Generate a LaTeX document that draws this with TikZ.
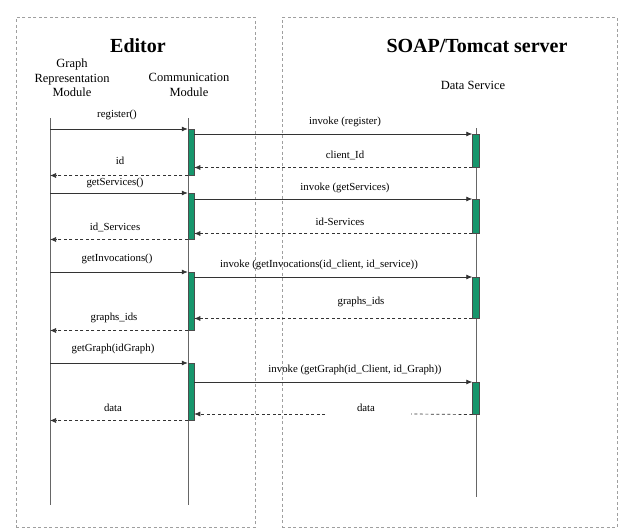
\documentclass[tikz,border=0pt]{standalone}
\usepackage{fontspec}
\setmainfont{Liberation Serif}
\usetikzlibrary{arrows.meta,calc}
\definecolor{actgreen}{RGB}{22,150,108}
\begin{document}
\begin{tikzpicture}[x=1pt,y=-1pt,
  frame/.style={draw=gray!75, line width=0.8pt, dash pattern=on 3pt off 2.5pt},
  life/.style={draw=gray!80!black, line width=0.8pt},
  cbar/.style={draw=gray!60!black, fill=actgreen, line width=0.5pt, minimum width=6pt, inner sep=0pt, anchor=north},
  dbar/.style={draw=gray!60!black, fill=actgreen, line width=0.5pt, minimum width=7pt, inner sep=0pt, anchor=north},
  msg/.style={draw=black!80, line width=0.7pt, -{Latex[length=6pt,width=5pt]}},
  ret/.style={draw=black!80, line width=0.7pt, dash pattern=on 3pt off 2.5pt, -{Latex[length=6pt,width=5pt]}},
  retline/.style={draw=black!80, line width=0.7pt, dash pattern=on 3pt off 2.5pt},
  lbl/.style={font=\fontsize{10.8}{12}\selectfont, inner sep=1pt},
  head/.style={font=\fontsize{12.5}{14.5}\selectfont, align=center, inner sep=0pt},
  title/.style={font=\fontsize{20}{22}\selectfont\bfseries, inner sep=0pt}
]
\useasboundingbox (0,0) rectangle (620,530);
% frames
\node[frame, minimum width=239pt, minimum height=510pt, anchor=north west, inner sep=0pt] (editor) at (16,17) {};
\node[frame, minimum width=335pt, minimum height=510pt, anchor=north west, inner sep=0pt] (server) at (282,17) {};
\node[title] (tEd) at (138,46) {Editor};
\node[title] (tSrv) at (477,46) {SOAP/Tomcat server};
% heads
\node[head] (hG) at (72,78) {Graph\\Representation\\Module};
\node[head] (hC) at (189,85) {Communication\\Module};
\node[head] (hD) at (473,85) {Data Service};
% lifelines
\coordinate (gTop) at (50,118); \coordinate (gBot) at (50,505);
\coordinate (cTop) at (188,118); \coordinate (cBot) at (188,505);
\coordinate (dTop) at (476,128); \coordinate (dBot) at (476,497);
\draw[life] (gTop) -- (gBot);
\draw[life] (cTop) -- (cBot);
\draw[life] (dTop) -- (dBot);
% activation bars
\node[cbar, minimum height=46pt] (a1) at (191,129) {};
\node[cbar, minimum height=46pt] (a2) at (191,193) {};
\node[cbar, minimum height=58pt] (a3) at (191,272) {};
\node[cbar, minimum height=57pt] (a4) at (191,363) {};
\node[dbar, minimum height=33pt] (d1) at (476,134) {};
\node[dbar, minimum height=34pt] (d2) at (476,199) {};
\node[dbar, minimum height=41pt] (d3) at (476,277) {};
\node[dbar, minimum height=32pt] (d4) at (476,382) {};
% messages 1
\draw[msg] (a1.north west -| gTop) -- (a1.north west);
\node[lbl] (l1) at (117,115) {register()};
\draw[msg] (d1.north west -| a1.east) -- (d1.north west);
\node[lbl] (l2) at (345,122) {invoke (register)};
\draw[ret] (d1.south west) -- (d1.south west -| a1.east);
\node[lbl] (l3) at (345,155) {client\_Id};
\draw[ret] (a1.south west) -- (a1.south west -| gTop);
\node[lbl] (l4) at (120,161) {id};
% messages 2
\draw[msg] (a2.north west -| gTop) -- (a2.north west);
\node[lbl] (l5) at (115,183) {getServices()};
\draw[msg] (d2.north west -| a2.east) -- (d2.north west);
\node[lbl] (l6) at (345,188) {invoke (getServices)};
\draw[ret] (d2.south west) -- (d2.south west -| a2.east);
\node[lbl] (l7) at (340,222) {id-Services};
\draw[ret] (a2.south west) -- (a2.south west -| gTop);
\node[lbl] (l8) at (115,227) {id\_Services};
% messages 3
\draw[msg] (a3.north west -| gTop) -- (a3.north west);
\node[lbl] (l9) at (117,259) {getInvocations()};
\draw[msg] (d3.north west -| a3.east) -- (d3.north west);
\node[lbl] (l10) at (319,265) {invoke (getInvocations(id\_client, id\_service))};
\draw[ret] (d3.south west) -- (d3.south west -| a3.east);
\node[lbl] (l11) at (361,302) {graphs\_ids};
\draw[ret] (a3.south west) -- (a3.south west -| gTop);
\node[lbl] (l12) at (114,318) {graphs\_ids};
% messages 4
\draw[msg] (a4.north west -| gTop) -- (a4.north west);
\node[lbl] (l13) at (113,349) {getGraph(idGraph)};
\draw[msg] (d4.north west -| a4.east) -- (d4.north west);
\node[lbl] (l14) at (355,370) {invoke (getGraph(id\_Client, id\_Graph))};
\coordinate (gapR) at (411,414);
\coordinate (gapL) at (325,414);
\draw[retline] (d4.south west) -- (gapR);
\draw[ret] (gapL) -- (gapL -| a4.east);
\node[lbl] (l15) at (366,408) {data};
\draw[ret] (a4.south west) -- (a4.south west -| gTop);
\node[lbl] (l16) at (113,408) {data};
\end{tikzpicture}
\end{document}
